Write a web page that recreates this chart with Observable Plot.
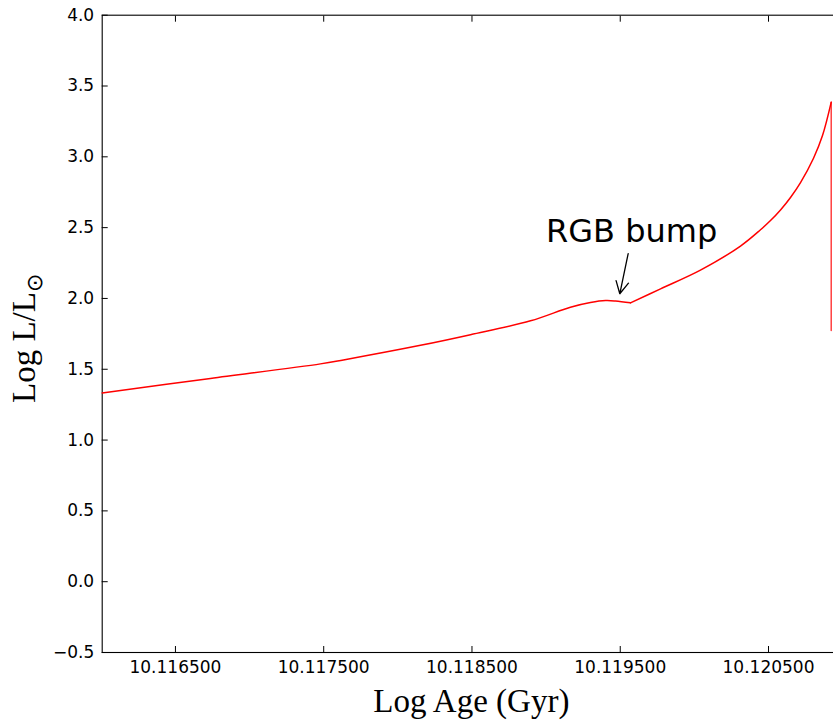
<!DOCTYPE html>
<html>
<head>
<meta charset="utf-8">
<script src="https://cdn.jsdelivr.net/npm/d3@7"></script>
<script src="https://cdn.jsdelivr.net/npm/@observablehq/plot@0.6"></script>
<style>
  html, body { margin: 0; padding: 0; background: white; }
  #chart svg { display: block; }
</style>
</head>
<body>
<div id="chart"></div>
<script>
// Track: log age vs log luminosity (before the bump dip)
const ageBefore = [10.116006, 10.116736, 10.117478, 10.117633, 10.118153, 10.118490, 10.118895,
  10.119164, 10.119299, 10.119401, 10.119468, 10.119569];
const lumBefore = [1.333, 1.435, 1.538, 1.566, 1.669, 1.744, 1.842,
  1.938, 1.971, 1.985, 1.982, 1.969];
// after the bump dip, up to the RGB tip
const ageAfter = [10.119569, 10.119772, 10.120041, 10.120311, 10.120446, 10.1205135, 10.120581,
  10.1206484, 10.1207159, 10.1208036, 10.1208642, 10.120923];
const lumAfter = [1.969, 2.068, 2.200, 2.370, 2.485, 2.550, 2.625,
  2.713, 2.818, 2.990, 3.150, 3.386];
// vertical tail at the tip of the RGB
const tailAge = [10.120923, 10.120923, 10.120923, 10.120923];
const tailLum = [3.386, 1.773, 2.500, 1.780];

const xTicks = [10.1165, 10.1175, 10.1185, 10.1195, 10.1205];
const yTicks = [-0.5, 0.0, 0.5, 1.0, 1.5, 2.0, 2.5, 3.0, 3.5, 4.0];
const xDomain = [10.116006, 10.1209856];
const yDomain = [-0.5, 4.0];

const annotationText = ["RGB bump"];
const annotationPos = {x: 10.119577, y: 2.472};
const arrowFrom = {x: 10.1195536, y: 2.317};
const arrowTo = {x: 10.119497, y: 2.033};

const xLabel = "Log Age (Gyr)";

const toRows = (ages, lums, seg) => ages.map((a, i) => ({age: a, lum: lums[i], seg}));
const smooth = toRows(ageBefore, lumBefore, "a").concat(toRows(ageAfter, lumAfter, "b"));
const tail = toRows(tailAge, tailLum, "t");

const tickFont = "DejaVu Sans";
const serif = "'Liberation Serif', 'DejaVu Serif', serif";

const plot = Plot.plot({
  width: 833,
  height: 722,
  marginLeft: 101.7,
  marginTop: 14.7,
  marginBottom: 70,
  marginRight: -7,
  style: {fontFamily: tickFont, fontSize: "17px", color: "black", background: "white", overflow: "hidden"},
  x: {domain: xDomain},
  y: {domain: yDomain},
  marks: [
    Plot.frame({stroke: "black", strokeWidth: 1.1}),
    // inward ticks
    Plot.axisX(xTicks, {anchor: "bottom", tickSize: -6, tickFormat: () => "", label: null, strokeWidth: 1}),
    Plot.axisX(xTicks, {anchor: "top", tickSize: -6, tickFormat: () => "", label: null, strokeWidth: 1}),
    Plot.axisY(yTicks, {anchor: "left", tickSize: -6, tickFormat: () => "", label: null, strokeWidth: 1}),
    // tick labels
    Plot.axisX(xTicks, {anchor: "bottom", tickSize: 0, tickPadding: 8, tickFormat: d3.format(".6f"), label: null, fill: "black"}),
    Plot.axisY(yTicks, {anchor: "left", tickSize: 0, tickPadding: 8, tickFormat: d3.format(".1f"), label: null, fill: "black"}),
    Plot.line(smooth, {x: "age", y: "lum", z: "seg", stroke: "#ff0000", strokeWidth: 1.5, curve: "catmull-rom"}),
    Plot.line(tail, {x: "age", y: "lum", stroke: "#ff0000", strokeWidth: 1.5, strokeOpacity: 0.75, curve: "linear"}),
    Plot.arrow([0], {x1: () => arrowFrom.x, y1: () => arrowFrom.y, x2: () => arrowTo.x, y2: () => arrowTo.y,
      stroke: "black", strokeWidth: 1.3, headLength: 16, headAngle: 55}),
    Plot.text(annotationText, {x: () => annotationPos.x, y: () => annotationPos.y, text: d => d,
      fontSize: 32, fontFamily: tickFont, fill: "black", textAnchor: "middle", lineAnchor: "middle"}),
    Plot.text([xLabel], {frameAnchor: "bottom", text: d => d, dy: 59, lineAnchor: "bottom",
      fontSize: 33, fontFamily: serif, fill: "black"})
  ]
});

document.getElementById("chart").appendChild(plot);

// y-axis label with subscript sun symbol
const svg = d3.select(plot);
const yl = svg.append("text")
  .attr("transform", "translate(35,403) rotate(-90)")
  .attr("text-anchor", "start")
  .attr("font-family", serif)
  .attr("font-size", 33)
  .attr("fill", "black");
yl.append("tspan").text("Log L/L");
yl.append("tspan").attr("dy", 7).attr("font-size", 22).attr("font-family", "DejaVu Sans").text("⊙");
</script>
</body>
</html>
